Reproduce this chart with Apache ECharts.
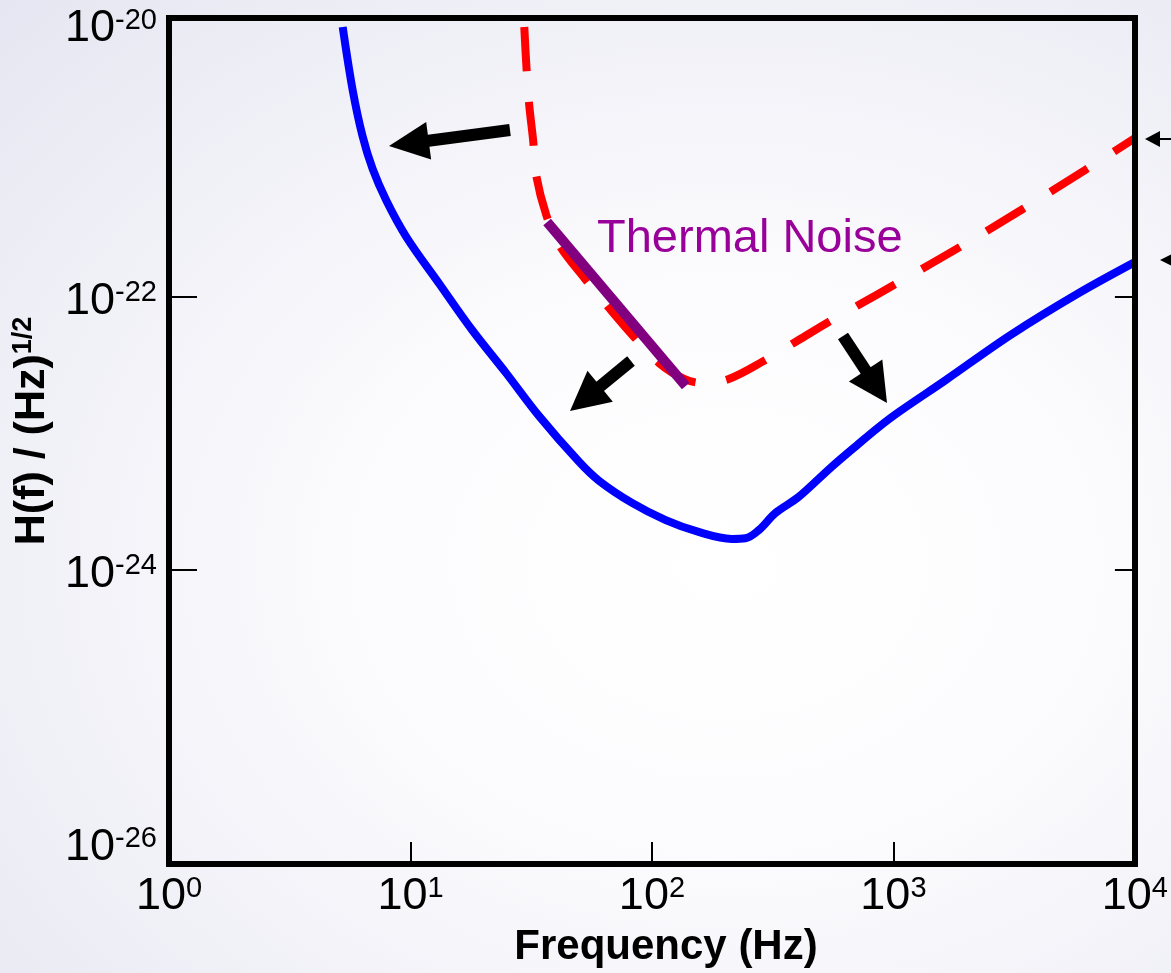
<!DOCTYPE html>
<html><head><meta charset="utf-8">
<script src="https://cdn.jsdelivr.net/npm/echarts@6/dist/echarts.min.js"></script>
<style>
html,body{margin:0;padding:0;}
body{width:1171px;height:973px;overflow:hidden;background:radial-gradient(ellipse at 62% 58%, #ffffff 0%, #fcfcfe 35%, #f0f0f7 70%, #e6e6f2 100%);}
#c{width:1171px;height:973px;}
</style></head><body><div id="c"></div>
<script>
// ---- data ----
const xTickExps = [0, 1, 2, 3, 4];
const yTickExps = [-26, -24, -22, -20];
const yTickMarks = [1e-24, 1e-22];
const xTickMarks = [10, 100, 1000];

const blueFreq = [5.24, 5.76, 6.33, 6.97, 7.96, 9.62, 13.2, 18.0, 24.9, 34.1, 49.9, 60.4, 82.7, 114, 156, 214, 244, 277, 325, 405, 554, 717, 867, 1049, 1640, 3073, 5812, 10000];
const blueH = [9.5e-21, 3.29e-21, 1.51e-21, 8.67e-22, 5.05e-22, 2.75e-22, 1.24e-22, 5.73e-23, 2.77e-23, 1.34e-23, 6.2e-24, 4.5e-24, 3.10e-24, 2.32e-24, 1.90e-24, 1.69e-24, 1.71e-24, 1.96e-24, 2.62e-24, 3.43e-24, 5.69e-24, 8.4e-24, 1.11e-23, 1.43e-23, 2.45e-23, 5.3e-23, 1.06e-22, 1.80e-22];

const redFreq = [29.6, 30.2, 31.0, 32.2, 33.2, 36.5, 41.3, 52.4, 66.4, 84.3, 107, 136, 164, 208, 290, 405, 539, 717, 1000, 1857, 3381, 6214, 10000];
const redH = [9.5e-21, 4.92e-21, 2.59e-21, 1.41e-21, 7.7e-22, 3.99e-22, 2.40e-22, 1.38e-22, 8.3e-23, 5.09e-23, 3.28e-23, 2.51e-23, 2.34e-23, 2.51e-23, 3.40e-23, 4.84e-23, 6.56e-23, 8.73e-23, 1.22e-22, 2.29e-22, 4.34e-22, 8.51e-22, 1.46e-21];

const thermalFreq = [36.8, 138];
const thermalH = [3.54e-22, 2.23e-23];

const thermalLabel = 'Thermal Noise';
const xTitle = 'Frequency (Hz)';
const yTitleMain = 'H(f) / (Hz)';
const yTitleSup = '1/2';

// ---- helpers ----
const zip = (a, b) => a.map((v, i) => [v, b[i]]);
const FONT = '"Liberation Sans", Arial, Helvetica, sans-serif';
const richLabel = {
  b: { fontSize: 45, fontFamily: FONT, color: '#000', lineHeight: 46 },
  s: { fontSize: 29, fontFamily: FONT, color: '#000', lineHeight: 30, verticalAlign: 'top' }
};
const expFmt = v => {
  const e = Math.round(Math.log10(v));
  return '{b|10}{s|' + e + '}';
};

function arrow(tail, tip, shaftW, headLen, headHalf) {
  const dx = tip[0] - tail[0], dy = tip[1] - tail[1];
  const L = Math.hypot(dx, dy), ux = dx / L, uy = dy / L, nx = -uy, ny = ux;
  const bx = tip[0] - ux * headLen, by = tip[1] - uy * headLen;
  const hw = shaftW / 2;
  return [
    { type: 'polygon', z: 20, shape: { points: [
      [tail[0] + nx * hw, tail[1] + ny * hw], [bx + ux * 2 + nx * hw, by + uy * 2 + ny * hw],
      [bx + ux * 2 - nx * hw, by + uy * 2 - ny * hw], [tail[0] - nx * hw, tail[1] - ny * hw]] },
      style: { fill: '#000' } },
    { type: 'polygon', z: 20, shape: { points: [
      [tip[0], tip[1]], [bx + nx * headHalf, by + ny * headHalf], [bx - nx * headHalf, by - ny * headHalf]] },
      style: { fill: '#000' } }
  ];
}

const chart = echarts.init(document.getElementById('c'), null, { renderer: 'canvas' });

const axisLineStyle = { color: '#000', width: 6, cap: 'square' };

const option = {
  backgroundColor: 'transparent',
  animation: false,
  grid: { left: 169, right: 34, top: 18, bottom: 109, show: false, containLabel: false },
  xAxis: [
    {
      type: 'log', logBase: 10, min: 1, max: 10000, position: 'bottom', z: 10,
      axisLine: { show: true, onZero: false, lineStyle: axisLineStyle },
      axisTick: { show: true, inside: true, length: 22, lineStyle: { color: '#000', width: 2 }, customValues: xTickMarks },
      axisLabel: { show: true, margin: 10, customValues: xTickExps.map(e => Math.pow(10, e)), formatter: expFmt, rich: richLabel, showMinLabel: true, showMaxLabel: true, hideOverlap: false },
      splitLine: { show: false }, minorTick: { show: false }
    },
    {
      type: 'log', logBase: 10, min: 1, max: 10000, position: 'top', z: 10,
      axisLine: { show: true, onZero: false, lineStyle: axisLineStyle },
      axisTick: { show: false }, axisLabel: { show: false }, splitLine: { show: false }
    }
  ],
  yAxis: [
    {
      type: 'log', logBase: 10, min: Math.pow(10, -26.154), max: Math.pow(10, -19.956), position: 'left', z: 10,
      axisLine: { show: true, onZero: false, lineStyle: axisLineStyle },
      axisTick: { show: true, inside: true, length: 28, lineStyle: { color: '#000', width: 2 }, customValues: yTickMarks },
      axisLabel: { show: true, margin: 12, padding: [10, 0, 0, 0], customValues: yTickExps.map(e => Math.pow(10, e)), formatter: expFmt, rich: richLabel, showMinLabel: true, showMaxLabel: true, hideOverlap: false },
      splitLine: { show: false }, minorTick: { show: false }
    },
    {
      type: 'log', logBase: 10, min: Math.pow(10, -26.154), max: Math.pow(10, -19.956), position: 'right', z: 10,
      axisLine: { show: true, onZero: false, lineStyle: axisLineStyle },
      axisTick: { show: true, inside: true, length: 20, lineStyle: { color: '#000', width: 2 }, customValues: yTickMarks },
      axisLabel: { show: false }, splitLine: { show: false }
    }
  ],
  series: [
    { name: 'blue', type: 'line', xAxisIndex: 0, yAxisIndex: 0, data: zip(blueFreq, blueH), smooth: 0.35, showSymbol: false, symbol: 'none',
      lineStyle: { color: '#0000ff', width: 8, cap: 'butt' }, z: 3 },
    { name: 'red', type: 'line', xAxisIndex: 0, yAxisIndex: 0, data: zip(redFreq, redH), smooth: 0.35, showSymbol: false, symbol: 'none',
      lineStyle: { color: '#ff0000', width: 8, type: [44, 31], cap: 'butt' }, z: 3 },
    { name: 'thermal', type: 'line', xAxisIndex: 0, yAxisIndex: 0, data: zip(thermalFreq, thermalH), showSymbol: false, symbol: 'none',
      lineStyle: { color: '#800080', width: 10, cap: 'butt' }, z: 4 }
  ],
  graphic: [
    ...arrow([510, 130], [389, 146], 12, 40, 19),
    ...arrow([631, 361], [570, 411], 12, 39, 20),
    ...arrow([843, 336], [887, 403], 12, 39, 20),
    ...arrow([1175, 139], [1145, 139], 2, 15, 8),
    ...arrow([1195, 260], [1160, 260], 2, 16, 8),
    { type: 'text', z: 20, x: 597, y: 239, style: { text: thermalLabel, x: 0, y: 0, fill: '#990099', font: '47px ' + FONT, textAlign: 'left', align: 'left', textVerticalAlign: 'middle', verticalAlign: 'middle' } },
    { type: 'text', z: 20, x: 666, y: 947, style: { text: xTitle, x: 0, y: 0, fill: '#000', font: 'bold 42px ' + FONT, textAlign: 'center', align: 'center', textVerticalAlign: 'middle', verticalAlign: 'middle' } },
    { type: 'text', z: 20, x: 32, y: 431, rotation: Math.PI / 2, style: {
        text: '{a|' + yTitleMain + '}{s|' + yTitleSup + '}', x: 0, y: 0, textAlign: 'center', align: 'center', textVerticalAlign: 'middle', verticalAlign: 'middle',
        rich: {
          a: { fontSize: 43, fontWeight: 'bold', fontFamily: FONT, color: '#000', fill: '#000', lineHeight: 44 },
          s: { fontSize: 27, fontWeight: 'bold', fontFamily: FONT, color: '#000', fill: '#000', lineHeight: 28, verticalAlign: 'top' }
        } } }
  ]
};
chart.setOption(option);
</script>
</body></html>
